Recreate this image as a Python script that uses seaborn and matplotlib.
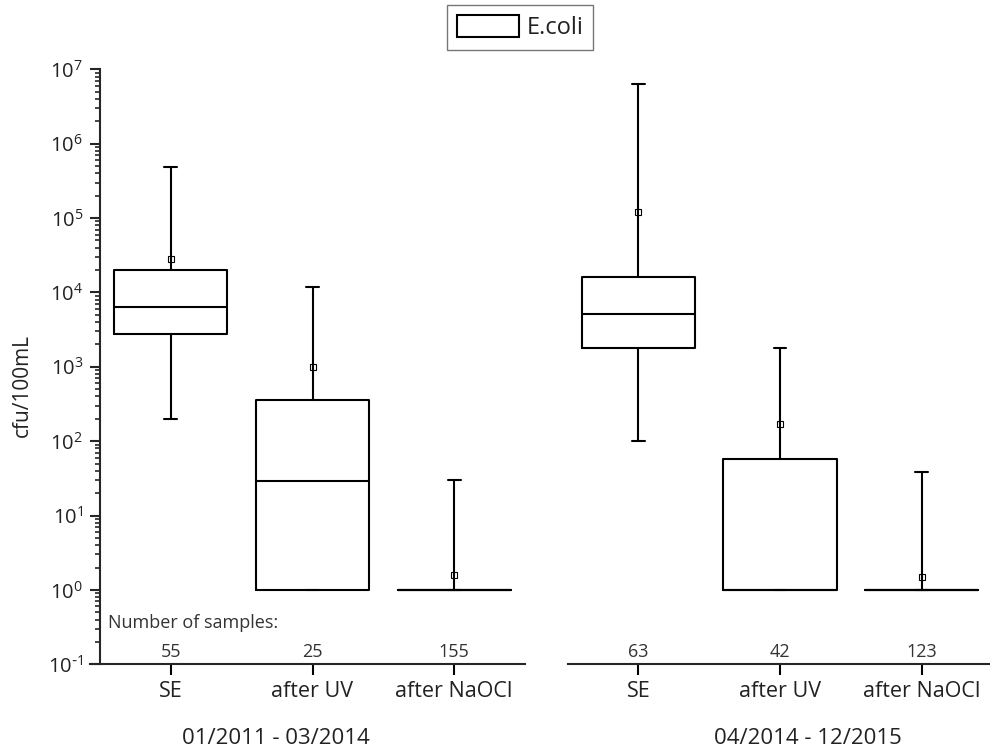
import matplotlib
matplotlib.use("Agg")
import math
import matplotlib.pyplot as plt
from matplotlib.patches import Patch
from matplotlib.ticker import LogLocator, NullFormatter, FuncFormatter
import pandas as pd
import seaborn as sns

# Treatment stages and sampling periods
stages = ["SE", "after UV", "after NaOCl"]
periods = ["01/2011 - 03/2014", "04/2014 - 12/2015"]

# E. coli summary statistics, cfu/100mL (period 1)
p1_whislo = [200, 1, 1]
p1_q1 = [2750, 1, 1]
p1_med = [6400, 29, 1]
p1_q3 = [20000, 360, 1]
p1_whishi = [490000, 12000, 30]
p1_mean = [28000, 1000, 1.6]
p1_n = [55, 25, 155]

# E. coli summary statistics, cfu/100mL (period 2)
p2_whislo = [100, 1, 1]
p2_q1 = [1800, 1, 1]
p2_med = [5100, 1, 1]
p2_q3 = [16000, 58, 1]
p2_whishi = [6300000, 1800, 38]
p2_mean = [120000, 170, 1.5]
p2_n = [63, 42, 123]

rows = []
for period, lo, q1, med, q3, hi, mean, n in [
    (periods[0], p1_whislo, p1_q1, p1_med, p1_q3, p1_whishi, p1_mean, p1_n),
    (periods[1], p2_whislo, p2_q1, p2_med, p2_q3, p2_whishi, p2_mean, p2_n),
]:
    for i, st in enumerate(stages):
        rows.append(dict(period=period, stage=st, whislo=lo[i], q1=q1[i],
                         med=med[i], q3=q3[i], whishi=hi[i], mean=mean[i],
                         n=n[i]))
stats = pd.DataFrame(rows)

sns.set_theme(style="ticks")
plt.rcParams["font.family"] = ["Open Sans", "DejaVu Sans"]
plt.rcParams["axes.linewidth"] = 1.5
plt.rcParams["axes.unicode_minus"] = False
plt.rcParams["text.color"] = "#222222"


def decade_label(v, pos):
    e = int(round(math.log10(v)))
    exp = r"\text{-}%d" % -e if e < 0 else "%d" % e
    return r"$\mathdefault{10^{%s}}$" % exp


W, H = 990, 756
fig = plt.figure(figsize=(W / 100, H / 100), dpi=100)
ax_bottom = (H - 664.3) / H
ax_height = 595 / H
ax1 = fig.add_axes([100 / W, ax_bottom, 425 / W, ax_height])
ax2 = fig.add_axes([567.5 / W, ax_bottom, 425 / W, ax_height], sharey=ax1)

line = dict(color="black", linewidth=1.5)
for ax, period in zip([ax1, ax2], periods):
    sub = stats[stats["period"] == period]
    bx = [dict(whislo=r.whislo, q1=r.q1, med=r.med, q3=r.q3, whishi=r.whishi,
               mean=r.mean, fliers=[], label=r.stage)
          for r in sub.itertuples()]
    ax.bxp(bx, positions=range(len(bx)), widths=0.8, capwidths=0.09,
           showmeans=True, showfliers=False, manage_ticks=False,
           boxprops=line, medianprops=line, whiskerprops=line, capprops=line,
           meanprops=dict(marker="s", markerfacecolor="none",
                          markeredgecolor="black", markersize=4.5,
                          markeredgewidth=0.8))
    ax.set_yscale("log")
    ax.set_ylim(0.1, 1e7)
    ax.set_xlim(-0.5, 2.5)
    ax.set_xticks(range(len(stages)), stages)
    ax.tick_params(axis="x", direction="out", length=8, width=1.5,
                   labelsize=15.5, pad=4, colors="black", labelcolor="#222222")
    for i, n in enumerate(sub["n"]):
        ax.text(i, 0.021, str(n), transform=ax.get_xaxis_transform(),
                ha="center", va="center", fontsize=13, color="#333333")

ax1.yaxis.set_major_locator(LogLocator(base=10, numticks=20))
ax1.yaxis.set_major_formatter(FuncFormatter(decade_label))
ax1.yaxis.set_minor_locator(LogLocator(base=10, subs=range(2, 10), numticks=20))
ax1.yaxis.set_minor_formatter(NullFormatter())
ax1.tick_params(axis="y", which="major", direction="out", length=7.2, width=1.5,
                labelsize=14.5, pad=5, labelcolor="#222222")
ax1.tick_params(axis="y", which="minor", direction="out", length=3.6, width=1.2)

sns.despine(ax=ax1)
sns.despine(ax=ax2, left=True)
ax2.tick_params(axis="y", which="both", left=False, labelleft=False)
ax1.spines["bottom"].set_bounds(-0.5 - 10 / 141.7, 2.5)

ax1.text(0.0195, 0.069, "Number of samples:", transform=ax1.transAxes,
         ha="left", va="center", fontsize=13, color="#333333")

fig.text(22 / W, 1 - 385.5 / H, "cfu/100mL", rotation=90, ha="center",
         va="center", fontsize=15)
fig.text(275.8 / W, 1 - 738 / H, periods[0], ha="center", va="center",
         fontsize=16)
fig.text(808.3 / W, 1 - 738 / H, periods[1], ha="center", va="center",
         fontsize=16)

leg = fig.legend(handles=[Patch(facecolor="white", edgecolor="black",
                                linewidth=1.5, label="E.coli")],
                 loc="center", bbox_to_anchor=(520 / W, 1 - 27.5 / H),
                 frameon=True, fancybox=False, fontsize=17, handlelength=2.65,
                 handleheight=1.1, handletextpad=0.3, borderpad=0.4,
                 borderaxespad=0)
leg.get_frame().set_edgecolor("#555555")
leg.get_frame().set_linewidth(1.0)

fig.savefig("out.png", dpi=100)
